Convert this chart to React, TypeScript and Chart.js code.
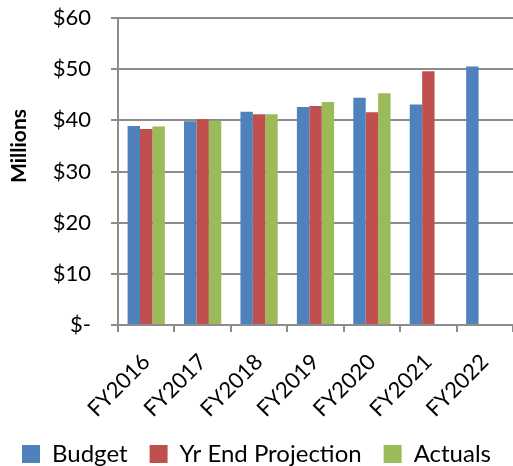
import React, { useEffect, useRef } from "react";
import { Chart, registerables } from "chart.js";

Chart.register(...registerables);

const categories = ["FY2016", "FY2017", "FY2018", "FY2019", "FY2020", "FY2021", "FY2022"];
const budget = [38.9, 39.8, 41.7, 42.6, 44.4, 43.1, 50.5];
const yrEndProjection = [38.3, 40.2, 41.2, 42.8, 41.6, 49.6, null];
const actuals = [38.8, 39.9, 41.2, 43.6, 45.3, null, null];
const yTickLabels = ["$-", "$10", "$20", "$30", "$40", "$50", "$60"];

const FONT = "Lato, 'Noto Sans', sans-serif";
const GRID = "#8c8c8c";

export default function App() {
  const ref = useRef<HTMLCanvasElement | null>(null);
  useEffect(() => {
    if (!ref.current) return;
    const chart = new Chart(ref.current, {
      type: "bar",
      data: {
        labels: categories,
        datasets: [
          { label: "Budget", data: budget, backgroundColor: "#4F81BD", borderWidth: 0 },
          { label: "Yr End Projection", data: yrEndProjection, backgroundColor: "#C0504D", borderWidth: 0 },
          { label: "Actuals", data: actuals, backgroundColor: "#9BBB59", borderWidth: 0 },
        ],
      },
      options: {
        animation: false,
        responsive: true,
        maintainAspectRatio: false,
        layout: { padding: { top: 18, right: 0, left: 0, bottom: -10 } },
        datasets: { bar: { categoryPercentage: 0.66, barPercentage: 1 } },
        plugins: {
          tooltip: { enabled: false },
          legend: {
            position: "bottom",
            labels: {
              boxWidth: 18,
              boxHeight: 18,
              padding: 22,
              color: "#000",
              font: { family: FONT, size: 24 },
            },
          },
        },
        scales: {
          x: {
            grid: {
              drawOnChartArea: false,
              drawTicks: true,
              tickLength: 7,
              color: GRID,
              lineWidth: 2,
              offset: true,
            },
            border: { color: GRID, width: 2 },
            ticks: {
              color: "#000",
              minRotation: 45,
              maxRotation: 45,
              padding: 17,
              font: { family: FONT, size: 22 },
            },
            afterFit: (s: any) => {
              s.height = 95;
              s.paddingLeft = 0;
              s.paddingRight = 0;
            },
          },
          y: {
            min: 0,
            max: 60,
            ticks: {
              stepSize: 10,
              color: "#000",
              padding: 20,
              font: { family: FONT, size: 22 },
              callback: (v: any) => yTickLabels[Math.round(Number(v) / 10)],
            },
            grid: { color: GRID, lineWidth: 2, tickLength: 7 },
            border: { color: GRID, width: 2 },
            title: {
              display: true,
              text: "          Millions",
              color: "#000",
              font: { family: FONT, size: 21, weight: "bold" },
              padding: { top: 7, bottom: 4 },
            },
            afterFit: (s: any) => {
              s.width = 118;
              s.paddingTop = 0;
              s.paddingBottom = 0;
            },
          },
        },
      },
    });
    return () => chart.destroy();
  }, []);
  return (
    <div style={{ position: "absolute", left: 0, top: 0, width: 513, height: 466 }}>
      <canvas ref={ref} />
    </div>
  );
}
